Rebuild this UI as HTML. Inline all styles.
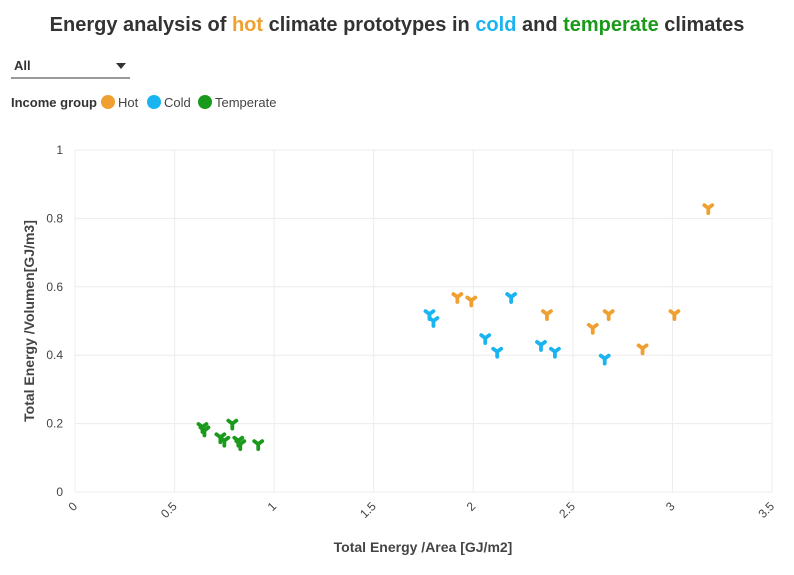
<!DOCTYPE html>
<html><head><meta charset="utf-8">
<style>
body{margin:0;background:#fff;font-family:"Liberation Sans",sans-serif;}
#wrap{position:relative;width:794px;height:575px;overflow:hidden;}
</style></head>
<body>
<div id="wrap">
<svg id="svg" width="794" height="575" xmlns="http://www.w3.org/2000/svg">
<text x="397" y="31" text-anchor="middle" font-size="20" font-weight="bold" fill="#333">Energy analysis of <tspan fill="#f0a030">hot</tspan> climate prototypes in <tspan fill="#1ab4f0">cold</tspan> and <tspan fill="#1a9a1a">temperate</tspan> climates</text>
<g>
<text x="14" y="70" font-size="13" font-weight="bold" fill="#333">All</text>
<path d="M116,63 L126,63 L121,69 Z" fill="#333"/>
<line x1="11" y1="78" x2="130" y2="78" stroke="#333" stroke-width="1"/>
</g>
<g>
<text x="11" y="107" font-size="13" font-weight="bold" fill="#333">Income group</text>
<g><circle cx="108" cy="102" r="7" fill="#f0a030"/><text x="118" y="107" font-size="13" fill="#444">Hot</text></g>
<g><circle cx="154" cy="102" r="7" fill="#1ab4f0"/><text x="164" y="107" font-size="13" fill="#444">Cold</text></g>
<g><circle cx="205" cy="102" r="7" fill="#1a9a1a"/><text x="215" y="107" font-size="13" fill="#444">Temperate</text></g>
</g>
<g id="grid"></g>
<g id="marks"></g>
<text x="423" y="552" text-anchor="middle" font-size="14" font-weight="bold" fill="#444">Total Energy /Area [GJ/m2]</text>
<text transform="translate(34,321) rotate(-90)" text-anchor="middle" font-size="14" font-weight="bold" fill="#444">Total Energy /Volumen[GJ/m3]</text>
</svg>
</div>
<script>
const xTicks=[0,0.5,1,1.5,2,2.5,3,3.5];
const xTickLabels=["0","0.5","1","1.5","2","2.5","3","3.5"];
const yTicks=[0,0.2,0.4,0.6,0.8,1];
const yTickLabels=["0","0.2","0.4","0.6","0.8","1"];
const hotX=[1.92,1.99,2.37,2.60,2.68,2.85,3.01,3.18];
const hotY=[0.57,0.56,0.52,0.48,0.52,0.42,0.52,0.83];
const coldX=[1.78,1.80,2.06,2.12,2.19,2.34,2.41,2.66];
const coldY=[0.52,0.50,0.45,0.41,0.57,0.43,0.41,0.39];
const tempX=[0.64,0.65,0.73,0.75,0.79,0.82,0.83,0.92];
const tempY=[0.19,0.18,0.16,0.15,0.20,0.15,0.14,0.14];

const NS="http://www.w3.org/2000/svg";
const X0=75,X1=772,Y0=492,Y1=150;
function sx(v){return X0+(v/3.5)*(X1-X0);}
function sy(v){return Y0-(v/1)*(Y0-Y1);}
const grid=document.getElementById('grid'),marks=document.getElementById('marks');
function mk(tag,attrs,parent){const e=document.createElementNS(NS,tag);for(const k in attrs)e.setAttribute(k,attrs[k]);parent.appendChild(e);return e;}
xTicks.forEach((t,i)=>{
  const l=mk('line',{x1:sx(t),x2:sx(t),y1:Y1,y2:Y0,stroke:'#ececec'},grid);
  
  
  const x=sx(t)+3,y=Y0+15;
  const tx=mk('text',{x:x,y:y,'font-size':12,fill:'#444','text-anchor':'end',transform:`rotate(-45 ${x} ${y})`},grid);
  tx.textContent=xTickLabels[i];
  
  
});
yTicks.forEach((t,i)=>{
  const l=mk('line',{x1:X0,x2:X1,y1:sy(t),y2:sy(t),stroke:'#ececec'},grid);
  
  
  const tx=mk('text',{x:X0-12,y:sy(t)+4,'font-size':12,fill:'#444','text-anchor':'end'},grid);
  tx.textContent=yTickLabels[i];
  
  
});
function series(xs,ys,color,name){
  xs.forEach((v,i)=>{
    const cx=sx(v),cy=sy(ys[i]);
    const p=mk('path',{d:`M${cx-4},${cy-3} L${cx},${cy} L${cx+4},${cy-3} M${cx},${cy} L${cx},${cy+5}`,stroke:color,'stroke-width':3.8,fill:'none','stroke-linecap':'round','stroke-linejoin':'round'},marks);
    
    
  });
}
series(hotX,hotY,'#f0a030','hot');
series(coldX,coldY,'#1ab4f0','cold');
series(tempX,tempY,'#1a9a1a','temperate');
</script>
</body></html>
